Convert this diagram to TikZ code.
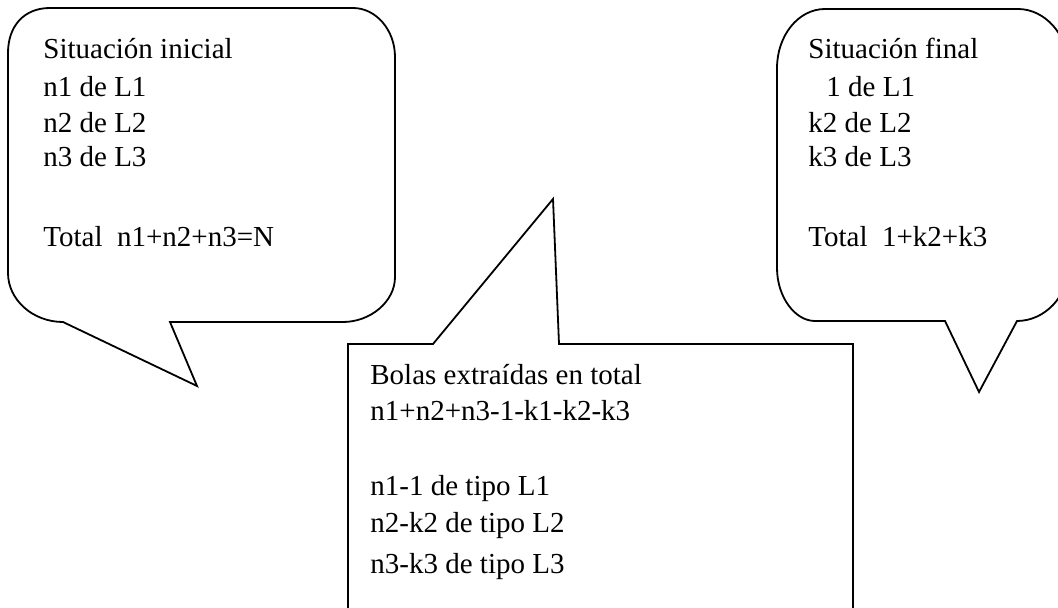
\documentclass[tikz,border=0pt]{standalone}
\usepackage{fontspec}
\setmainfont{Liberation Serif}
\usepackage{tikz}

\begin{document}
\begin{tikzpicture}[x=0.5pt,y=-0.5pt,
  globo/.style={line width=0.9pt,line join=miter},
  linea/.style={anchor=base west,inner sep=0pt,font=\fontsize{14.5}{18}\selectfont}]
  \clip (0,0) rectangle (1058,608);
  % globo izquierdo
  \draw[globo] (8,53) .. controls (8,26) and (24,8) .. (50,8) -- (353,8)
    .. controls (376,8) and (395,30) .. (395,57) -- (395,277)
    .. controls (395,302) and (370,322) .. (343,322) -- (170,322) -- (197,386)
    -- (63,322) .. controls (33,322) and (8,300) .. (8,273) -- cycle;
  % caja central
  \draw[globo] (348,620) -- (348,344) -- (433,344) -- (553,199) -- (559,344)
    -- (853,344) -- (853,620);
  % globo derecho
  \draw[globo] (777,68) .. controls (777,36) and (798,9) .. (825,9) -- (1018,9)
    .. controls (1045,9) and (1068,35) .. (1068,65) -- (1068,268)
    .. controls (1068,296) and (1045,321) .. (1017,321) -- (979,392)
    -- (945,321) -- (815,321) .. controls (795,321) and (777,297) .. (777,268) -- cycle;

  \node[linea] (ini0) at (43,59)  {Situación inicial};
  \node[linea] (ini1) at (43,97)  {n1 de L1};
  \node[linea] (ini2) at (43,133) {n2 de L2};
  \node[linea] (ini3) at (43,167) {n3 de L3};
  \node[linea] (iniT) at (43,247) {Total\ \ n1+n2+n3=N};

  \node[linea] (ext0) at (370,385) {Bolas extraídas en total};
  \node[linea] (ext1) at (370,421) {n1+n2+n3-1-k1-k2-k3};
  \node[linea] (ext2) at (370,495) {n1-1 de tipo L1};
  \node[linea] (ext3) at (370,532) {n2-k2 de tipo L2};
  \node[linea] (ext4) at (370,573) {n3-k3 de tipo L3};

  \node[linea] (fin0) at (808,59)  {Situación final};
  \node[linea] (fin1) at (826,97)  {1 de L1};
  \node[linea] (fin2) at (808,133) {k2 de L2};
  \node[linea] (fin3) at (808,167) {k3 de L3};
  \node[linea] (finT) at (808,247) {Total\ \ 1+k2+k3};
\end{tikzpicture}
\end{document}
